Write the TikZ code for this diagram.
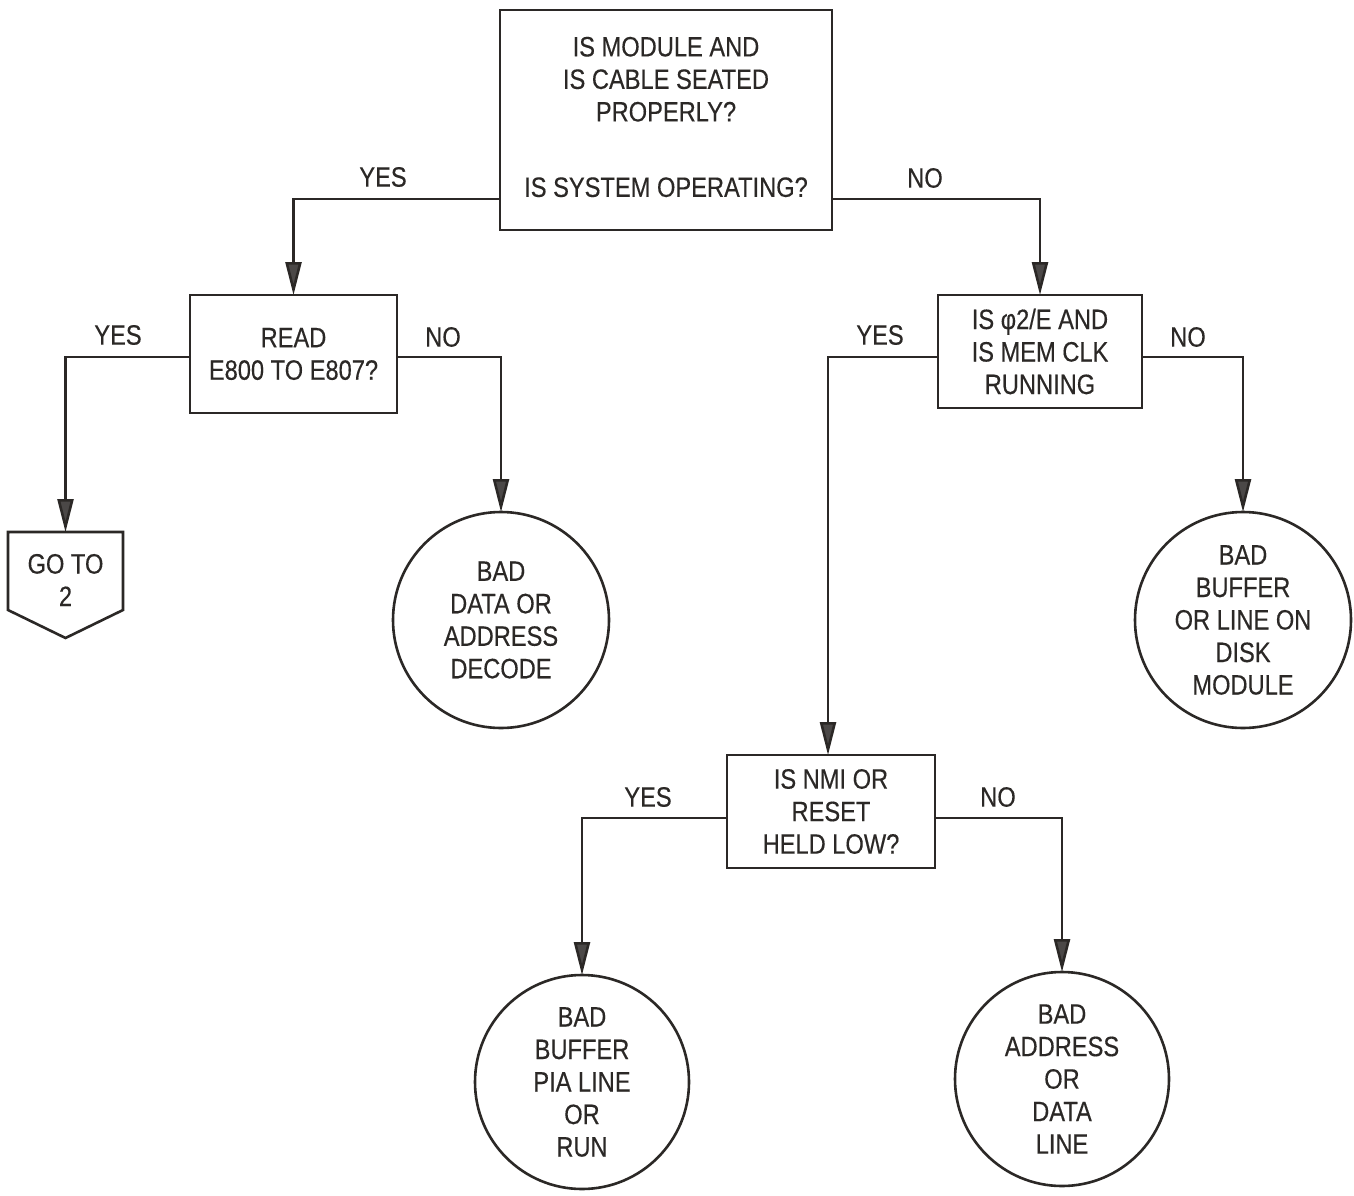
\documentclass[tikz,border=0pt]{standalone}
\usepackage{fontspec}
\setmainfont{Liberation Sans}[FakeStretch=0.845,FakeBold=0.3]
\usetikzlibrary{arrows.meta}
\definecolor{ink}{HTML}{2B2826}
\tikzset{
  x=1pt,y=-1pt,
  every node/.style={font=\fontsize{28}{32.5}\selectfont, text=ink, align=center},
  qbox/.style={draw=ink, line width=2.7pt, rectangle, inner sep=0pt, outer sep=0pt},
  endc/.style={draw=ink, line width=2.6pt, circle, inner sep=0pt, outer sep=0pt, minimum size=216pt},
  conn/.style={draw=ink, line width=2.6pt, -{Triangle[width=16pt,length=33pt,fill=ink!85]}},
  lbl/.style={inner sep=0pt},
}
\begin{document}
\begin{tikzpicture}
\useasboundingbox[fill=white] (0,0) rectangle (1354,1196);

% question boxes
\node[qbox, minimum width=332pt, minimum height=220pt] (top) at (666,120) {};
\node (toptext) at (666,117) {IS MODULE AND\\IS CABLE SEATED\\PROPERLY?\\[43pt]IS SYSTEM OPERATING?};

\node[qbox, minimum width=207pt, minimum height=118pt] (read) at (293.5,354) {READ\\E800 TO E807?};
\node[qbox, minimum width=204pt, minimum height=113pt] (phi) at (1040,351.5) {IS φ2/E AND\\IS MEM CLK\\RUNNING};
\node[qbox, minimum width=208pt, minimum height=113pt] (nmi) at (831,811.5) {IS NMI OR\\RESET\\HELD LOW?};

% off-page connector
\node[inner sep=0pt, outer sep=0pt, minimum width=115pt, minimum height=96pt] (goto) at (65.5,580) {GO TO\\2};
\draw[ink, line width=2.6pt, line join=miter]
  (goto.north west) -- (goto.north east) -- ([yshift=18pt]goto.south east)
  -- ([yshift=-10pt]goto.south) -- ([yshift=18pt]goto.south west) -- cycle;

% terminal circles
\node[endc] (c1) at (501,620) {BAD\\DATA OR\\ADDRESS\\DECODE};
\node[endc] (c2) at (1243,620) {BAD\\BUFFER\\OR LINE ON\\DISK\\MODULE};
\node[endc, minimum size=214pt] (c3) at (582,1082) {BAD\\BUFFER\\PIA LINE\\OR\\RUN};
\node[endc, minimum size=214pt] (c4) at (1062,1079) {BAD\\ADDRESS\\OR\\DATA\\LINE};

% connectors
\draw[conn] (top.west |- 0,199) -| (read.north);
\draw[conn] (top.east |- 0,199) -| (phi.north);
\draw[conn] (read.west |- 0,357) -| (goto.north);
\draw[conn] (read.east |- 0,357) -| (c1.north);
\draw[conn] (phi.west |- 0,357) -| (nmi.north -| 828,0);
\draw[conn] (phi.east |- 0,357) -| (c2.north);
\draw[conn] (nmi.west |- 0,818) -| (c3.north);
\draw[conn] (nmi.east |- 0,818) -| (c4.north);

% labels
\node[lbl] (l1) at (383,177) {YES};
\node[lbl] (l2) at (925,178) {NO};
\node[lbl] (l3) at (118,335) {YES};
\node[lbl] (l4) at (443,337) {NO};
\node[lbl] (l5) at (880,335) {YES};
\node[lbl] (l6) at (1188,337) {NO};
\node[lbl] (l7) at (648,797) {YES};
\node[lbl] (l8) at (998,797) {NO};
\end{tikzpicture}
\end{document}
